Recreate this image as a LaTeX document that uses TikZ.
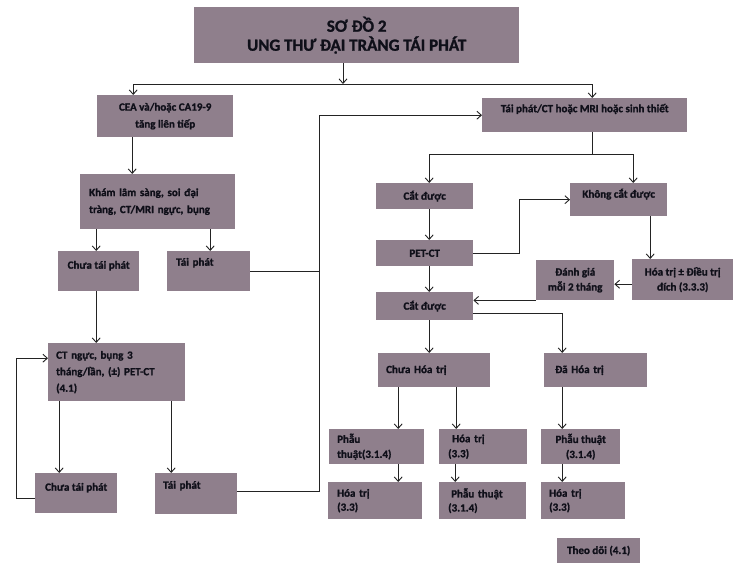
\documentclass[tikz,border=0pt]{standalone}
\usepackage{fontspec}
\setmainfont{Carlito}[BoldFont={Carlito Bold}, BoldFeatures={FakeBold=1.3}]
\usetikzlibrary{arrows.meta}
\definecolor{boxc}{RGB}{143,127,140}
\definecolor{txtc}{RGB}{15,15,25}
\definecolor{linec}{RGB}{35,35,35}
\newcommand{\vconn}[3]{\coordinate (tmpc) at ([xshift=#3]#2.north); \draw[arr] (#1.south -| tmpc) -- (tmpc);}
\begin{document}
\begin{tikzpicture}[x=1pt,y=-1pt,
  box/.style={fill=boxc, draw=none, inner sep=0pt, anchor=north west, text=txtc,
    font=\fontsize{11}{15}\selectfont\bfseries},
  arr/.style={draw=linec, line width=0.9pt, -{Straight Barb[length=4.5pt,width=8pt]}},
  ln/.style={draw=linec, line width=0.9pt}]
\useasboundingbox (0,0) rectangle (744,572);
\fill[white] (0,0) rectangle (744,572);

% title
\node[box, minimum width=325pt, minimum height=56pt, align=center,
  font=\fontsize{17}{19}\selectfont\bfseries] (title) at (194,7) {SƠ ĐỒ 2\\UNG THƯ ĐẠI TRÀNG TÁI PHÁT};

% left branch
\node[box, minimum width=136pt, minimum height=42pt, align=center,
  font=\fontsize{11}{17}\selectfont\bfseries] (cea) at (97,95) {CEA và/hoặc CA19-9\\tăng liên tiếp};
\node[box, text width=137pt, inner xsep=9pt, minimum height=55pt, align=left,
  font=\fontsize{11}{17}\selectfont\bfseries] (kham) at (80,174) {Khám lâm sàng, soi đại\\tràng, CT/MRI ngực, bụng};
\node[box, minimum width=81pt, text height=17.5pt, text depth=22.5pt] (ctp1) at (58,251) {Chưa tái phát};
\node[box, text width=65pt, inner xsep=9pt, align=left, text height=14.5pt, text depth=25.5pt] (tp1) at (167,251) {Tái phát};
\node[box, text width=121pt, inner xsep=8pt, minimum height=58pt, align=left,
  font=\fontsize{11}{16.5}\selectfont\bfseries] (ctn) at (48,343) {CT ngực, bụng 3\\tháng/lần, (±) PET-CT\\(4.1)};
\node[box, minimum width=82pt, text height=17.5pt, text depth=22.5pt] (ctp2) at (35,473) {Chưa tái phát};
\node[box, text width=66pt, inner xsep=8pt, align=left, text height=15.5pt, text depth=25.5pt] (tp2) at (155,473) {Tái phát};

% right branch
\node[box, minimum width=205pt, text height=14pt, text depth=20pt] (tpct) at (482,98) {Tái phát/CT hoặc MRI hoặc sinh thiết};
\node[box, minimum width=97pt, minimum height=26pt] (cd1) at (376,183) {Cắt được};
\node[box, minimum width=97pt, text height=14.5pt, text depth=18.5pt] (kcd) at (570,183) {Không cắt được};
\node[box, minimum width=97pt, minimum height=26pt] (pet) at (376,240) {PET-CT};
\node[box, minimum width=101pt, minimum height=41pt, align=center] (htd) at (632,259) {Hóa trị ± Điều trị\\đích (3.3.3)};
\node[box, minimum width=78pt, minimum height=40pt, align=center] (dg) at (536,260) {Đánh giá\\mỗi 2 tháng};
\node[box, minimum width=97pt, minimum height=28pt] (cd2) at (376,292) {Cắt được};
\node[box, text width=96pt, inner xsep=8pt, align=left, minimum height=34pt] (cht) at (378,353) {Chưa Hóa trị};
\node[box, text width=81pt, inner xsep=11pt, align=left, minimum height=34pt] (dht) at (544,353) {Đã Hóa trị};

\node[box, text width=79pt, inner xsep=8pt, align=left, minimum height=35pt] (pt1) at (329,429) {Phẫu\\thuật(3.1.4)};
\node[box, text width=76pt, inner xsep=9pt, align=left, minimum height=37pt,
  font=\fontsize{11}{14}\selectfont\bfseries] (ht1) at (328,482) {Hóa trị\\(3.3)};
\node[box, text width=70pt, inner xsep=9pt, align=left, minimum height=35pt] (ht2) at (439,429) {\hspace*{4pt}Hóa trị\\(3.3)};
\node[box, text width=69pt, inner xsep=9pt, align=left, minimum height=37pt,
  font=\fontsize{11}{14}\selectfont\bfseries] (pt2) at (439,482) {\hspace*{3pt}Phẫu thuật\\(3.1.4)};
\node[box, minimum width=79pt, minimum height=35pt, align=center] (pt3) at (541,429) {Phẫu thuật\\(3.1.4)};
\node[box, text width=68pt, inner xsep=8pt, align=left, minimum height=37pt,
  font=\fontsize{11}{14}\selectfont\bfseries] (ht3) at (541,482) {Hóa trị\\(3.3)};
\node[box, minimum width=83pt, minimum height=25pt] (theo) at (557,538) {Theo dõi (4.1)};

% connectors: top split
\coordinate (j0) at (343,84);
\draw[arr] (title.south -| j0) -- (j0);
\draw[arr] (j0) -| ([xshift=-32pt]cea.north);
\draw[arr] (j0) -| ([xshift=7.5pt]tpct.north);

% left column
\vconn{cea}{kham}{-25.5pt}
\vconn{kham}{ctp1}{-2.5pt}
\vconn{kham}{tp1}{1.5pt}
\vconn{ctp1}{ctn}{-20.5pt}
\vconn{ctn}{ctp2}{-17pt}
\vconn{ctn}{tp2}{-25pt}
\draw[arr] ([yshift=-5pt]ctp2.west) -- ++(-19pt,0) |- ([yshift=14pt]ctn.west);

% recurrence to right
\coordinate (vl) at ([xshift=-163pt]tpct.west);
\draw[arr] ([yshift=2.5pt]tp2.east) -| (vl) -- (tpct.west);
\draw[ln] (tp1.east) -- (tp1.east -| vl);

% right column
\coordinate (j1) at (592,154);
\draw[ln] (tpct.south -| j1) -- (j1);
\draw[arr] (j1) -| ([xshift=4.5pt]cd1.north);
\draw[arr] (j1) -| ([xshift=14.5pt]kcd.north);
\vconn{cd1}{pet}{4.5pt}
\coordinate (m1) at ([xshift=46pt]pet.east);
\draw[arr] (pet.east) -- (m1) |- (kcd.west);
\vconn{kcd}{htd}{-32.5pt}
\draw[arr] ([yshift=-4.5pt]htd.west) -- ([yshift=-4.5pt]htd.west -| dg.east);
\vconn{pet}{cd2}{4.5pt}
\draw[arr] (dg.south west) -- (dg.south west -| cd2.east);
\vconn{cd2}{cht}{-5pt}
\draw[arr] ([yshift=-7pt]cd2.east) -| ([xshift=-33.5pt]dht.north);
\vconn{cht}{pt1}{21.5pt}
\vconn{cht}{ht2}{-27pt}
\vconn{dht}{pt3}{-18.5pt}
\vconn{pt1}{ht1}{23pt}
\vconn{ht2}{pt2}{-27.5pt}
\vconn{pt3}{ht3}{-21pt}
\end{tikzpicture}
\end{document}
